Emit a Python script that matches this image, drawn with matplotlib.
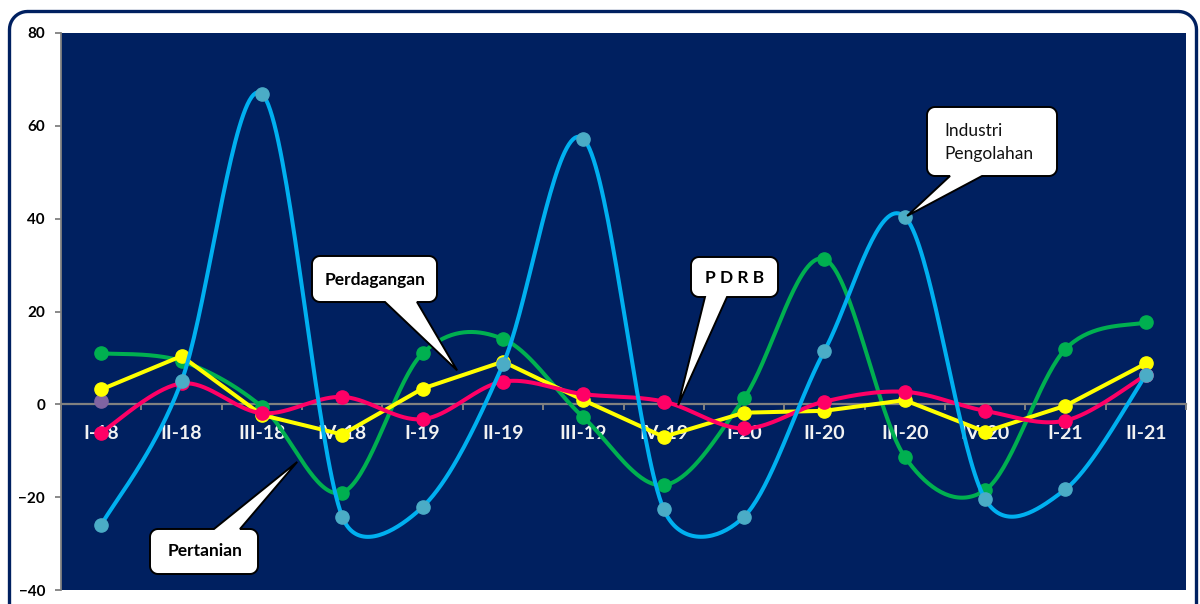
import numpy as np
import matplotlib
matplotlib.use("Agg")
import matplotlib.pyplot as plt
from matplotlib.patches import Polygon

# Quarterly growth (%) by sector
quarters = ["I-18", "II-18", "III-18", "IV-18", "I-19", "II-19", "III-19",
            "IV-19", "I-20", "II-20", "III-20", "IV-20", "I-21", "II-21"]
pertanian = [11.0, 9.3, -0.5, -19.0, 11.0, 14.1, -2.8, -17.4, 1.3, 31.3,
             -11.3, -18.5, 11.9, 17.7]
perdagangan = [3.2, 10.4, -2.3, -6.5, 3.4, 9.2, 0.9, -7.0, -1.8, -1.4, 0.9,
               -5.9, -0.3, 8.8]
pdrb = [-6.1, 4.5, -1.9, 1.6, -3.2, 4.9, 2.2, 0.6, -5.2, 0.6, 2.7, -1.4,
        -3.5, 6.3]
industri = [-26.0, 5.0, 66.9, -24.2, -22.1, 8.6, 57.2, -22.6, -24.2, 11.5,
            40.4, -20.4, -18.3, 6.3]
lainnya = [0.7]

W, H = 1200, 604
NAVY = "#002060"
GREY = "#808080"
FONT = ["Lato", "DejaVu Sans"]

fig = plt.figure(figsize=(W / 100, H / 100), dpi=100)
fig.patch.set_facecolor("white")

ax = fig.add_axes([61 / W, (H - 590) / H, (1186 - 61) / W, (590 - 33) / H])
ax.set_facecolor(NAVY)
x = np.arange(len(quarters))
ax.set_xlim(-0.5, len(quarters) - 0.5)
ax.set_ylim(-40, 80)


def smooth(xs, ys, n=40):
    """Bezier smoothing computed in screen space, with control arms limited
    to half of the segment length."""
    P = ax.transData.transform(np.column_stack([xs, ys]))
    m = len(P)
    out = [P[0]]
    t = np.linspace(0, 1, n)[1:, None]
    for i in range(m - 1):
        p1, p2 = P[i], P[i + 1]
        p0 = P[i - 1] if i > 0 else p1
        p3 = P[i + 2] if i + 2 < m else p2
        d12 = np.linalg.norm(p2 - p1)
        d02 = np.linalg.norm(p2 - p0)
        d13 = np.linalg.norm(p3 - p1)
        f1 = 1 / 6 if d02 / 6 < d12 / 2 else (d12 / 2) / d02
        f2 = 1 / 6 if d13 / 6 < d12 / 2 else (d12 / 2) / d13
        c1 = p1 + f1 * (p2 - p0)
        c2 = p2 - f2 * (p3 - p1)
        seg = ((1 - t) ** 3 * p1 + 3 * (1 - t) ** 2 * t * c1
               + 3 * (1 - t) * t ** 2 * c2 + t ** 3 * p2)
        out.extend(seg)
    out = ax.transData.inverted().transform(np.array(out))
    return out[:, 0], out[:, 1]


LW = 2.9
MS = 9.5

# Series drawn back to front
ax.plot(x[:len(lainnya)], lainnya, "o", color="#8064A2", ms=MS, zorder=2)

sx, sy = smooth(x, pertanian)
ax.plot(sx, sy, color="#00B050", lw=LW, zorder=3, solid_capstyle="round")
ax.plot(x, pertanian, "o", color="#00B050", ms=MS, zorder=3)

ax.plot(x, perdagangan, color="#FFFF00", lw=LW, zorder=4,
        solid_joinstyle="round")
ax.plot(x, perdagangan, "o", color="#FFFF00", ms=MS, zorder=4)

sx, sy = smooth(x, pdrb)
ax.plot(sx, sy, color="#FF0066", lw=LW, zorder=5)
ax.plot(x, pdrb, "o", color="#FF0066", ms=MS, zorder=5)

sx, sy = smooth(x, industri)
ax.plot(sx, sy, color="#00B0F0", lw=LW, zorder=6)
ax.plot(x, industri, "o", color="#4BACC6", ms=MS, zorder=6)

# Axes styling: category axis crosses at zero
for s in ("top", "right"):
    ax.spines[s].set_visible(False)
ax.spines["bottom"].set_position(("data", 0))
ax.spines["bottom"].set_color(GREY)
ax.spines["bottom"].set_linewidth(1.6)
ax.spines["bottom"].set_zorder(1)
ax.spines["left"].set_color(GREY)
ax.spines["left"].set_linewidth(1.3)

ax.set_xticks(x)
ax.set_xticklabels(quarters)
ax.set_xticks(np.arange(-0.5, len(quarters), 1.0), minor=True)
ax.tick_params(axis="x", which="major", length=0, pad=15)
ax.tick_params(axis="x", which="minor", length=4.5, width=1.4, color=GREY,
               direction="out")
for lab in ax.get_xticklabels():
    lab.set_color("#F2F2F2")
    lab.set_fontsize(14)
    lab.set_fontweight("bold")
    lab.set_family(FONT)

ax.set_yticks(np.arange(-40, 81, 20))
ax.tick_params(axis="y", length=4.5, width=1.3, color=GREY, pad=7)
for lab in ax.get_yticklabels():
    lab.set_color("black")
    lab.set_fontsize(11)
    lab.set_fontweight("bold")
    lab.set_family(FONT)

# Overlay in pixel coordinates for the frame and callouts
ov = fig.add_axes([0, 0, 1, 1], zorder=10)
ov.set_xlim(0, W)
ov.set_ylim(H, 0)
ov.axis("off")


def arc(cx, cy, r, a0, a1, n=12):
    a = np.radians(np.linspace(a0, a1, n))
    return list(zip(cx + r * np.cos(a), cy + r * np.sin(a)))


# Rounded outer frame (open at the bottom, which runs off the canvas)
fl, ft, fr, fb, fr_rad = 9.5, 11.5, 1196.5, 640, 18
frame = [(fl, fb)] + arc(fl + fr_rad, ft + fr_rad, fr_rad, 180, 270) \
    + arc(fr - fr_rad, ft + fr_rad, fr_rad, 270, 360) + [(fr, fb)]
fx, fy = zip(*frame)
ov.plot(fx, fy, color=NAVY, lw=2.4, solid_joinstyle="round")


def to_ov(px, py):
    d = ax.transData.transform((px, py))
    return ov.transData.inverted().transform(d)


def callout(box, edge, base, tip, r=8):
    x0, y0, x1, y1 = box
    xa, xb = base
    tx, ty = to_ov(*tip)
    pts = arc(x0 + r, y0 + r, r, 180, 270)
    if edge == "top":
        pts += [(xa, y0), (tx, ty), (xb, y0)]
    pts += arc(x1 - r, y0 + r, r, 270, 360)
    pts += arc(x1 - r, y1 - r, r, 0, 90)
    if edge == "bottom":
        pts += [(xb, y1), (tx, ty), (xa, y1)]
    pts += arc(x0 + r, y1 - r, r, 90, 180)
    ov.add_patch(Polygon(pts, closed=True, fc="white", ec="black", lw=1.4,
                         joinstyle="miter"))


callout((312, 256, 437, 302), "bottom", (385, 417), (4.43, 7.3))
ov.text(375, 280, "Perdagangan", ha="center", va="center", fontsize=12.5,
        fontweight="bold", family=FONT, color="black")

callout((691, 257, 778, 297), "bottom", (705, 727), (7.18, -0.2))
ov.text(735, 278, "P D R B", ha="center", va="center", fontsize=12.5,
        fontweight="bold", family=FONT, color="black")

callout((150, 529, 258, 574), "top", (214, 240), (2.44, -12.4))
ov.text(205, 551, "Pertanian", ha="center", va="center", fontsize=12.5,
        fontweight="bold", family=FONT, color="black")

callout((927, 107, 1057, 176), "bottom", (950, 982), (10.03, 40.6))
ov.text(944, 131, "Industri", ha="left", va="center", fontsize=12.5,
        family=FONT, color="#111111")
ov.text(944, 154, "Pengolahan", ha="left", va="center", fontsize=12.5,
        family=FONT, color="#111111")

fig.savefig("out.png", dpi=100, facecolor="white")
